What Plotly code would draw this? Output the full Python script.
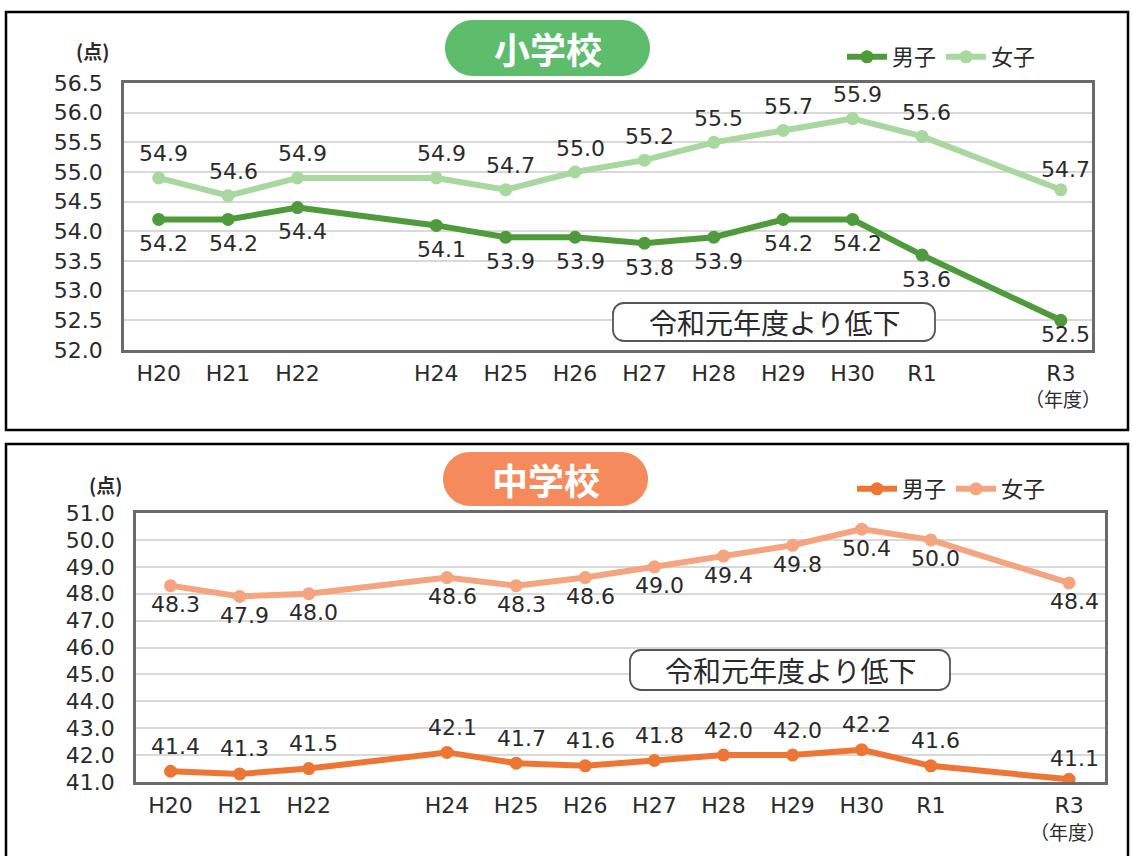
import plotly.graph_objects as go

W, H = 1132, 856

years = [2008, 2009, 2010, 2012, 2013, 2014, 2015, 2016, 2017, 2018, 2019, 2021]
year_labels = ["H20", "H21", "H22", "H24", "H25", "H26", "H27", "H28", "H29", "H30", "R1", "R3"]

elem_boys = [54.2, 54.2, 54.4, 54.1, 53.9, 53.9, 53.8, 53.9, 54.2, 54.2, 53.6, 52.5]
elem_girls = [54.9, 54.6, 54.9, 54.9, 54.7, 55.0, 55.2, 55.5, 55.7, 55.9, 55.6, 54.7]
jh_boys = [41.4, 41.3, 41.5, 42.1, 41.7, 41.6, 41.8, 42.0, 42.0, 42.2, 41.6, 41.1]
jh_girls = [48.3, 47.9, 48.0, 48.6, 48.3, 48.6, 49.0, 49.4, 49.8, 50.4, 50.0, 48.4]

elem_ticks = [52.0, 52.5, 53.0, 53.5, 54.0, 54.5, 55.0, 55.5, 56.0, 56.5]
jh_ticks = [41.0, 42.0, 43.0, 44.0, 45.0, 46.0, 47.0, 48.0, 49.0, 50.0, 51.0]

C_DG = "#4f9b3b"
C_LG = "#a8d8a0"
C_DO = "#ee7634"
C_LO = "#f4a47f"
C_PILL_G = "#5dbd6d"
C_PILL_O = "#f58b5c"
TXT = "#2a2a2a"
NUMFONT = "DejaVu Sans"
JPFONT = "Noto Sans CJK JP"


def px(x):
    return x / W


def py(y):
    return 1 - y / H


def P(x, y):
    return f"{px(x):.5f},{py(y):.5f}"


def rrect(x0, y0, x1, y1, r):
    k = 0.5523 * r
    return (
        f"M {P(x0 + r, y0)} L {P(x1 - r, y0)} "
        f"C {P(x1 - r + k, y0)} {P(x1, y0 + r - k)} {P(x1, y0 + r)} "
        f"L {P(x1, y1 - r)} "
        f"C {P(x1, y1 - r + k)} {P(x1 - r + k, y1)} {P(x1 - r, y1)} "
        f"L {P(x0 + r, y1)} "
        f"C {P(x0 + r - k, y1)} {P(x0, y1 - r + k)} {P(x0, y1 - r)} "
        f"L {P(x0, y0 + r)} "
        f"C {P(x0, y0 + r - k)} {P(x0 + r - k, y0)} {P(x0 + r, y0)} Z"
    )


fig = go.Figure()

# ---- elementary (top)
fig.add_trace(go.Scatter(x=years, y=elem_boys, mode="lines+markers", name="男子",
                         line=dict(color=C_DG, width=6), marker=dict(size=13, color=C_DG),
                         xaxis="x", yaxis="y", legend="legend"))
fig.add_trace(go.Scatter(x=years, y=elem_girls, mode="lines+markers", name="女子",
                         line=dict(color=C_LG, width=6), marker=dict(size=13, color=C_LG),
                         xaxis="x", yaxis="y", legend="legend"))

# ---- junior high (bottom)
fig.add_trace(go.Scatter(x=years, y=jh_boys, mode="lines+markers", name="男子",
                         line=dict(color=C_DO, width=6), marker=dict(size=13, color=C_DO),
                         xaxis="x2", yaxis="y2", legend="legend2"))
fig.add_trace(go.Scatter(x=years, y=jh_girls, mode="lines+markers", name="女子",
                         line=dict(color=C_LO, width=6), marker=dict(size=13, color=C_LO),
                         xaxis="x2", yaxis="y2", legend="legend2"))

axis_common = dict(showline=True, mirror=True, linecolor="#6a6a6a", linewidth=2.5, automargin=False,
                   zeroline=False, ticks="", tickfont=dict(family=NUMFONT, size=22, color=TXT))

fig.update_layout(
    width=W, height=H,
    margin=dict(l=0, r=0, t=0, b=0, autoexpand=False),
    paper_bgcolor="white", plot_bgcolor="white",
    xaxis=dict(domain=[px(124), px(1092)], range=[2007.5, 2021.45], anchor="y",
               tickvals=years, ticktext=year_labels, showgrid=False, ticklabelstandoff=2, **axis_common),
    yaxis=dict(domain=[py(350), py(83)], range=[52.0, 56.5], anchor="x",
               tickvals=elem_ticks, ticktext=[f"{v:.1f}" for v in elem_ticks],
               showgrid=True, gridcolor="#d9d9d9", gridwidth=1.5, ticklabelstandoff=14, **axis_common),
    xaxis2=dict(domain=[px(136), px(1105)], range=[2007.5, 2021.52], anchor="y2",
                tickvals=years, ticktext=year_labels, showgrid=False, ticklabelstandoff=2, **axis_common),
    yaxis2=dict(domain=[py(782), py(513)], range=[41.0, 51.0], anchor="x2",
                tickvals=jh_ticks, ticktext=[f"{v:.1f}" for v in jh_ticks],
                showgrid=True, gridcolor="#d9d9d9", gridwidth=1.5, ticklabelstandoff=14, **axis_common),
    legend=dict(orientation="h", x=px(842), y=py(36), xanchor="left", yanchor="top",
                font=dict(family=JPFONT, size=22, color=TXT), bgcolor="rgba(0,0,0,0)",
                itemwidth=40, tracegroupgap=0),
    legend2=dict(orientation="h", x=px(852), y=py(468), xanchor="left", yanchor="top",
                 font=dict(family=JPFONT, size=22, color=TXT), bgcolor="rgba(0,0,0,0)",
                 itemwidth=40, tracegroupgap=0),
    showlegend=True,
)

shapes = [
    # panel borders
    dict(type="rect", xref="paper", yref="paper", x0=px(6), x1=px(1128), y0=py(430), y1=py(12),
         line=dict(color="black", width=2.5), layer="below"),
    dict(type="rect", xref="paper", yref="paper", x0=px(6), x1=px(1128), y0=py(870), y1=py(444),
         line=dict(color="black", width=2.5), layer="below"),
    # title pills
    dict(type="path", xref="paper", yref="paper", path=rrect(445, 20, 650, 76, 28),
         fillcolor=C_PILL_G, line=dict(width=0), layer="above"),
    dict(type="path", xref="paper", yref="paper", path=rrect(443, 452, 648, 506, 27),
         fillcolor=C_PILL_O, line=dict(width=0), layer="above"),
    # callout boxes
    dict(type="path", xref="paper", yref="paper", path=rrect(613, 303, 935, 341, 11),
         fillcolor="white", line=dict(color="#555555", width=1.8), layer="above"),
    dict(type="path", xref="paper", yref="paper", path=rrect(630, 650, 950, 690, 11),
         fillcolor="white", line=dict(color="#555555", width=1.8), layer="above"),
]
fig.update_layout(shapes=shapes)

ann = []


def add_text(x, y, text, size, color=TXT, family=JPFONT, xanchor="center", bold=False):
    t = f"<b>{text}</b>" if bold else text
    ann.append(dict(xref="paper", yref="paper", x=px(x), y=py(y), text=t, showarrow=False,
                    xanchor=xanchor, yanchor="middle", font=dict(family=family, size=size, color=color)))


def add_labels(xs, ys, xa, ya, yshifts, xshift=5):
    for xv, yv, ys_ in zip(xs, ys, yshifts):
        ann.append(dict(xref=xa, yref=ya, x=xv, y=yv, text=f"{yv:.1f}", showarrow=False,
                        xanchor="center", yanchor="middle", xshift=xshift, yshift=ys_,
                        font=dict(family=NUMFONT, size=22, color=TXT)))


n = len(years)
add_labels(years, elem_girls, "x", "y", [24] * (n - 1) + [20])
add_labels(years, elem_boys, "x", "y", [-24] * (n - 1) + [-14])
add_labels(years, jh_girls, "x2", "y2", [-19] * n)
add_labels(years, jh_boys, "x2", "y2", [25] * (n - 1) + [21])

add_text(548, 48, "小学校", 36, color="white", bold=True)
add_text(546, 479, "中学校", 36, color="white", bold=True)
add_text(774, 322, "令和元年度より低下", 28)
add_text(790, 670, "令和元年度より低下", 28)
add_text(92, 50, "(点)", 19, bold=True)
add_text(105, 484, "(点)", 19, bold=True)
add_text(1063, 398, "（年度）", 19)
add_text(1068, 831, "（年度）", 19)

fig.update_layout(annotations=ann)

fig.write_html("out.html", config={"displayModeBar": False},
               post_script="document.body.style.margin='0';document.body.style.overflow='hidden';")
